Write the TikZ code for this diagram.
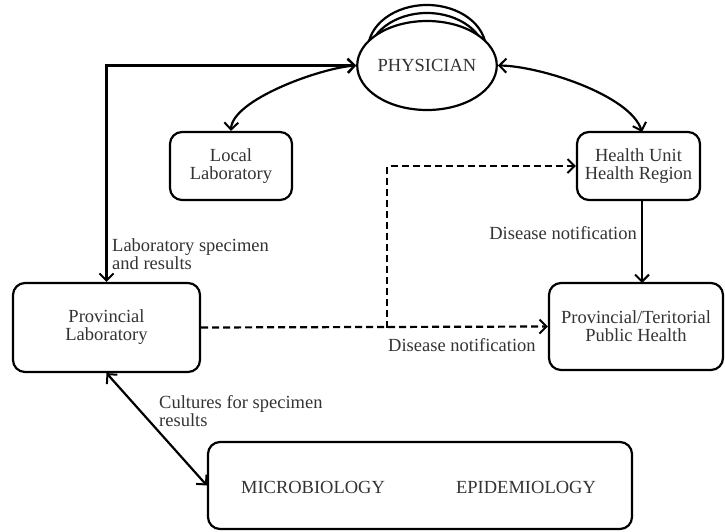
\documentclass[tikz,border=0pt]{standalone}
\usepackage{fontspec}
\setmainfont{Liberation Serif}
\usetikzlibrary{arrows.meta,shapes.geometric}

\begin{document}
\begin{tikzpicture}[x=1pt,y=-1pt,
  every node/.style={font=\fontsize{18.5}{18}\selectfont, text=black!80},
  link/.style={line width=2.2pt, >={Straight Barb[length=7pt,width=14pt,line width=2pt]}},
  dashlink/.style={link, dash pattern=on 7pt off 4pt},
  box/.style={draw, line width=2.2pt, rounded corners=12pt, align=center, inner sep=0pt},
  oval/.style={draw, line width=2.2pt, ellipse, fill=white, minimum width=118pt, minimum height=89pt, inner sep=0pt},
  lbl/.style={align=left, inner sep=0pt}
]
\useasboundingbox (0,0) rectangle (725,531);

% stacked physician ovals
\node[oval] (ph2) at (427,49.5) {};
\node[oval] (ph1) at (427,57.5) {};
\node[oval] (phys) at (427,65.5) {PHYSICIAN};

% boxes
\node[box, minimum width=122pt, minimum height=68pt] (loclab) at (231,166) {Local\\Laboratory};
\node[box, minimum width=123pt, minimum height=68pt] (hu) at (638.5,166) {Health Unit\\Health Region};
\node[box, minimum width=187pt, minimum height=89pt] (provlab) at (106.5,327.5) {Provincial\\Laboratory};
\node[box, minimum width=174pt, minimum height=87pt] (ptph) at (636,326.5) {Provincial/Teritorial\\Public Health};
\node[box, minimum width=424pt, minimum height=87pt] (labs) at (420,485.5) {};
\node (micro) at (313,487) {MICROBIOLOGY};
\node (epi) at (526,487) {EPIDEMIOLOGY};

% physician links
\draw[link,<->] (provlab.north) |- (phys.west);
\draw[link,<->] (phys.west) .. controls (320,68) and (232,100) .. (loclab.north);
\draw[link,<->] (phys.east) .. controls (540,66) and (630,95) .. (642,132);
\node[lbl, anchor=west] (lsr) at (112,254) {Laboratory specimen\\and results};

% notification flows
\draw[link,->] (642,200) -- (642,283);
\node[lbl, anchor=east] (dn1) at (637,233) {Disease notification};

\coordinate (jn) at (387,327.5);
\draw[dashlink,->] (provlab.east) -- (ptph.west);
\draw[dashlink,->] (jn) |- (hu.west);
\node[lbl, anchor=west] (dn2) at (388,345) {Disease notification};

% cultures link
\draw[link,<->] (provlab.south) -- (labs.west);
\node[lbl, anchor=west] (cfs) at (159,411) {Cultures for specimen\\results};
\end{tikzpicture}
\end{document}
